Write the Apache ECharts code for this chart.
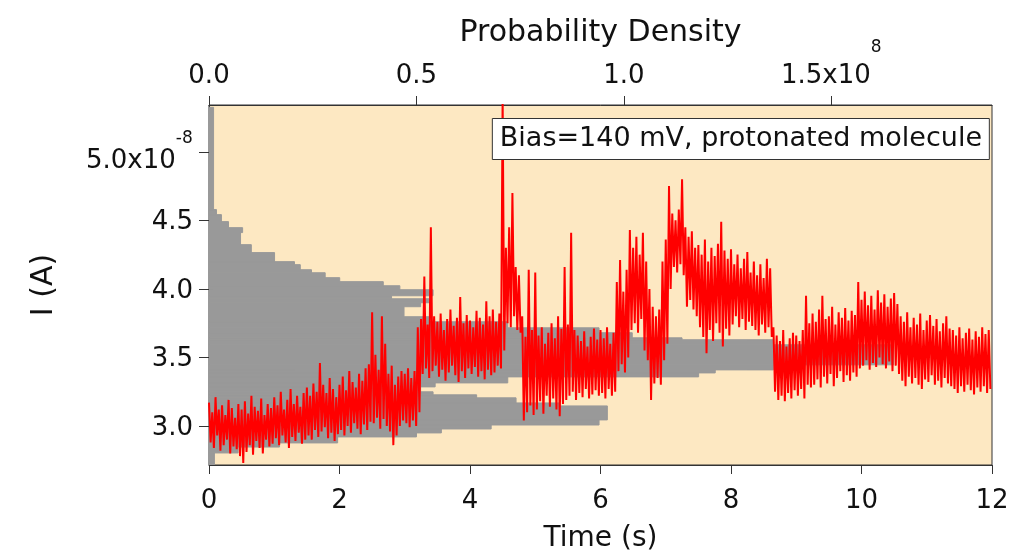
<!DOCTYPE html>
<html><head><meta charset="utf-8">
<script src="https://cdn.jsdelivr.net/npm/echarts@6/dist/echarts.min.js"></script>
<style>html,body{margin:0;padding:0;background:#fff}#c{width:1013px;height:558px}</style>
</head><body><div id="c"></div>
<script>
// ---- data (current in units of 1e-8 A, density in units of 1e8) ----
const timeStep = 0.05; // s between successive high/low readings
const currentHigh = [
  3.17,3.10,3.21,3.12,3.15,3.08,3.19,3.13,3.06,3.16,
  3.12,3.18,3.09,3.22,3.14,3.11,3.20,3.08,3.16,3.13,
  3.21,3.15,3.25,3.12,3.19,3.27,3.16,3.22,3.14,3.24,
  3.28,3.22,3.31,3.25,3.46,3.30,3.24,3.35,3.27,3.21,
  3.30,3.36,3.26,3.40,3.32,3.28,3.38,3.33,3.42,3.45,
  3.83,3.52,3.41,3.80,3.60,3.38,3.44,3.30,3.36,3.40,
  3.38,3.42,3.35,3.40,
  3.72,3.78,4.09,3.74,4.45,3.80,
  3.76,3.82,3.70,3.78,3.85,3.73,3.79,3.94,3.75,3.81,
  3.77,3.72,3.84,3.79,3.74,3.91,3.80,3.85,3.76,3.82,
  5.40,4.30,4.45,4.70,4.16,4.10,3.80,3.65,4.14,3.70,
  4.12,3.66,3.72,3.60,3.68,3.75,3.64,3.80,3.71,4.16,
  3.74,4.41,3.70,3.66,3.62,3.69,3.58,3.65,3.71,3.63,
  3.70,3.64,3.72,3.60,3.68,
  4.05,4.21,3.98,4.14,
  4.43,4.30,4.38,4.25,
  4.41,4.20,4.00,
  3.87,3.80,3.85,
  4.20,4.36,
  4.75,4.55,4.50,4.58,4.80,
  4.45,4.38,4.42,4.30,
  4.32,4.25,4.36,4.20,4.30,4.24,4.33,4.49,4.28,4.22,
  4.29,4.18,4.25,4.15,4.22,4.27,4.12,
  4.20,4.10,4.18,4.08,4.22,4.15,
  3.72,3.66,3.62,3.70,3.58,3.64,3.68,
  3.66,3.62,3.70,3.95,3.75,
  3.82,3.76,3.85,3.95,3.78,3.80,3.87,3.74,3.83,3.79,3.86,3.77,3.84,3.81,4.05,
  3.92,3.98,3.88,3.95,3.85,3.99,3.90,3.96,3.87,3.93,3.97,3.89,
  3.80,3.76,3.83,3.72,3.79,3.74,3.82,3.70,3.77,3.81,3.73,3.78,3.69,3.75,3.80,3.71,
  3.70,3.66,3.72,3.64,3.68,3.71,3.63,3.69,3.65,3.72,3.67,3.70
];
const currentLow = [
  2.88,2.84,2.93,2.82,2.86,2.90,2.80,2.85,2.83,2.78,
  2.73,2.81,2.86,2.79,2.89,2.84,2.80,2.90,2.85,2.87,
  2.91,2.86,2.93,2.88,2.84,2.92,2.89,2.95,2.87,2.90,
  2.93,2.90,2.97,2.92,2.96,2.99,2.91,2.95,2.89,2.94,
  2.97,2.93,3.00,2.95,3.02,2.98,2.94,3.01,2.97,3.03,
  3.02,3.06,2.98,3.05,3.00,2.96,2.86,2.93,3.00,3.04,
  3.02,2.99,3.04,3.00,
  3.10,3.38,3.42,3.35,3.40,3.44,
  3.36,3.41,3.33,3.39,3.44,3.37,3.32,3.40,3.35,3.42,
  3.38,3.43,3.36,3.40,3.34,3.41,3.37,3.39,3.44,3.42,
  3.55,3.75,3.72,3.80,3.70,3.68,3.04,3.10,3.15,3.08,
  3.12,3.18,3.09,3.22,3.14,3.20,3.12,3.07,3.16,3.19,
  3.22,3.25,3.19,3.24,3.21,3.27,3.20,3.23,3.26,3.22,
  3.24,3.20,3.27,3.22,3.25,
  3.40,3.45,3.39,3.50,
  3.70,3.75,3.68,3.78,
  3.55,3.48,3.19,
  3.31,3.35,3.30,
  3.48,3.60,
  4.00,4.16,4.12,4.18,4.10,
  3.87,3.92,3.85,3.80,
  3.72,3.65,3.53,3.70,3.62,3.75,3.68,3.58,3.71,3.66,
  3.74,3.80,3.72,3.78,3.70,3.76,3.73,
  3.70,3.66,3.74,3.68,3.72,3.65,
  3.25,3.19,3.22,3.18,3.24,3.20,3.26,
  3.22,3.27,3.20,3.30,3.28,
  3.30,3.34,3.28,3.36,3.31,3.38,3.29,3.35,3.40,3.32,3.37,3.33,3.39,3.36,3.42,
  3.44,3.48,3.41,3.46,3.43,3.50,3.45,3.42,3.47,3.40,3.44,3.38,
  3.33,3.29,3.36,3.31,3.35,3.30,3.27,3.34,3.32,3.37,3.30,3.33,3.28,3.35,3.31,3.29,
  3.27,3.24,3.29,3.25,3.30,3.26,3.23,3.28,3.25,3.29,3.24,3.27
];
const histEdges = [
  2.715,2.803,2.846,2.876,2.920,2.949,2.978,3.007,3.044,3.146,
  3.168,3.205,3.227,3.249,3.285,3.314,3.358,3.387,3.409,3.446,
  3.592,3.629,3.643,3.680,3.716,3.760,3.797,3.870,3.899,3.928,
  3.950,3.994,4.023,4.053,4.082,4.118,4.140,4.177,4.199,4.265,
  4.323,4.411,4.447,4.491,4.542,4.579,5.325
];
const histDensity = [
  0.013,0.07,0.17,0.31,0.50,0.56,0.68,0.94,0.96,
  0.845,0.74,0.645,0.54,0.51,0.545,0.72,1.18,1.22,1.36,
  1.65,1.36,1.14,1.02,0.94,0.72,0.53,0.47,0.51,0.53,
  0.44,0.54,0.46,0.42,0.315,0.28,0.247,0.22,0.206,0.158,
  0.102,0.076,0.081,0.047,0.030,0.018,0.011
];
const timeTicks = [0,2,4,6,8,10,12];
const currentTicks = [3.0,3.5,4.0,4.5,5.0];
const densityTicks = [0.0,0.5,1.0,1.5];
const annotationText = 'Bias=140 mV, protonated molecule';

// ---- build ----
const trace = [];
for (let i = 0; i < currentHigh.length; i++) {
  trace.push([i * timeStep, currentHigh[i]]);
  trace.push([i * timeStep + timeStep / 2, currentLow[i]]);
}
const bins = histDensity.map((d, i) => [histEdges[i], histEdges[i + 1], d]);

const FONT = 'DejaVu Sans';
const rich = {
  b: {fontSize: 26, fontFamily: FONT, color: '#111', lineHeight: 30, verticalAlign: 'bottom'},
  sup: {fontSize: 17, fontFamily: FONT, color: '#111', lineHeight: 21, verticalAlign: 'top'},
  supT: {fontSize: 17, fontFamily: FONT, color: '#111', lineHeight: 17, verticalAlign: 'top'},
  sp: {fontSize: 1, lineHeight: 44, verticalAlign: 'bottom'},
  spT: {fontSize: 1, lineHeight: 50, verticalAlign: 'bottom'}
};
const chart = echarts.init(document.getElementById('c'), null, {renderer: 'canvas'});
chart.setOption({
  animation: false,
  backgroundColor: '#fff',
  title: {
    text: annotationText,
    right: 23, top: 118,
    backgroundColor: '#fff', borderColor: '#333', borderWidth: 1,
    padding: [5, 8, 5, 8],
    textStyle: {fontFamily: FONT, fontSize: 27, fontWeight: 'normal', color: '#111', lineHeight: 32}
  },
  grid: {left: 209, right: 21, top: 105, bottom: 93, show: true,
         backgroundColor: '#fde8c2', borderColor: '#333', borderWidth: 1},
  xAxis: [
    {type: 'value', position: 'bottom', min: 0, max: 12, interval: 2,
     name: 'Time (s)', nameLocation: 'middle', nameGap: 60, nameMoveOverlap: false,
     nameTextStyle: {fontFamily: FONT, fontSize: 28, color: '#111'},
     axisLine: {show: true, lineStyle: {color: '#333'}},
     axisTick: {show: true, length: 9, lineStyle: {color: '#333'}, customValues: timeTicks},
     axisLabel: {fontFamily: FONT, fontSize: 26, color: '#111', margin: 23, customValues: timeTicks,
                 formatter: v => String(v)},
     splitLine: {show: false}},
    {type: 'value', position: 'top', min: 0, max: 1.887,
     name: 'Probability Density', nameLocation: 'middle', nameGap: 57, nameMoveOverlap: false,
     nameTextStyle: {fontFamily: FONT, fontSize: 30, color: '#111'},
     axisLine: {show: true, lineStyle: {color: '#333'}},
     axisTick: {show: true, length: 9, lineStyle: {color: '#333'}, customValues: densityTicks},
     axisLabel: {margin: 16, customValues: densityTicks, rich: rich,
                 formatter: v => Math.abs(v - 1.5) < 1e-9 ? '{b|1.5x10}{supT|8}{spT| }' : '{b|' + v.toFixed(1) + '}'},
     splitLine: {show: false}}
  ],
  yAxis: [
    {type: 'value', position: 'left', min: 2.715, max: 5.342,
     name: 'I (A)', nameLocation: 'middle', nameGap: 150, nameMoveOverlap: false,
     nameTextStyle: {fontFamily: FONT, fontSize: 30, color: '#111'},
     axisLine: {show: true, lineStyle: {color: '#333'}},
     axisTick: {show: true, length: 10, lineStyle: {color: '#333'}, customValues: currentTicks},
     axisLabel: {margin: 16, customValues: currentTicks, rich: rich,
                 formatter: v => Math.abs(v - 5) < 1e-9 ? '{b|5.0x10}{sup|-8}{sp| }' : '{b|' + v.toFixed(1) + '}'},
     splitLine: {show: false}},
    {type: 'value', position: 'right', min: 2.715, max: 5.342,
     axisLine: {show: false},
     axisTick: {show: true, length: 4, lineStyle: {color: '#333'}, customValues: currentTicks},
     axisLabel: {show: false},
     splitLine: {show: false}}
  ],
  series: [
    {type: 'custom', xAxisIndex: 1, yAxisIndex: 0, data: bins, clip: true, z: 2,
     encode: {x: 2, y: [0, 1]},
     renderItem: function (params, api) {
       const p1 = api.coord([0, api.value(1)]);
       const p2 = api.coord([api.value(2), api.value(0)]);
       return {type: 'rect', shape: {x: p1[0], y: p1[1], width: p2[0] - p1[0], height: p2[1] - p1[1]},
               style: {fill: '#999999', stroke: '#999999', lineWidth: 1}};
     }},
    {type: 'line', xAxisIndex: 0, yAxisIndex: 0, data: trace, showSymbol: false, clip: true, z: 3,
     lineStyle: {color: '#ff0000', width: 2}, itemStyle: {color: '#ff0000'}}
  ]
});
</script></body></html>
